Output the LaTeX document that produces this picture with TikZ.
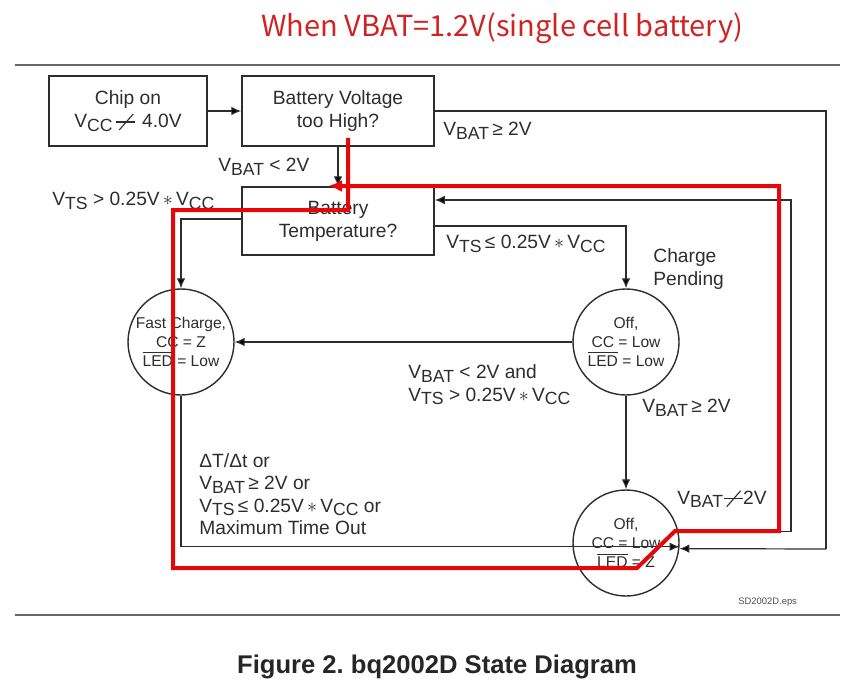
\documentclass[tikz,border=0pt]{standalone}
\usepackage{fontspec}
\setmainfont{Liberation Sans}
\newfontfamily\titlefont{Noto Sans CJK JP}
\usetikzlibrary{arrows.meta,calc}
\frenchspacing
\newcommand\sbs[1]{\raisebox{-0.35ex}{\fontsize{8.8}{9}\selectfont #1}}
\newcommand\slashsym{\tikz[baseline=0pt,x=1pt,y=1pt,line width=0.55pt]{\draw (0,2.8)--(9.5,2.8); \draw (1.5,-1.2)--(8.5,6.8);}}
\newcommand\mul{\,$\ast$\,}
\definecolor{ink}{RGB}{45,45,45}
\definecolor{hl}{RGB}{228,8,10}
\definecolor{ttl}{RGB}{210,35,35}
\tikzset{
  box/.style={draw=ink, line width=0.75pt, minimum width=79pt, minimum height=35pt, align=center, inner sep=1pt, font=\fontsize{9.6}{11.5}\selectfont, text=ink},
  state/.style={draw=ink, line width=0.7pt, circle, minimum size=53pt, inner sep=0pt, align=center, font=\fontsize{7.8}{9.4}\selectfont, text=ink},
  conn/.style={draw=ink, line width=0.6pt},
  arr/.style={conn, -{Latex[length=5pt,width=4.3pt]}},
  lbl/.style={anchor=west, inner sep=0pt, align=left, font=\fontsize{9.6}{11.25}\selectfont, text=ink},
  rule/.style={draw=black!60, line width=1pt},
  redpath/.style={draw=hl, line width=2pt, -{Latex[length=7pt,width=6pt]}}
}
\begin{document}
\begin{tikzpicture}[x=0.5pt,y=-0.5pt]
\useasboundingbox (0,0) rectangle (854,695);
% title
\node[text=ttl, font=\titlefont\fontsize{14.5}{16}\selectfont, inner sep=0pt] (title) at (502,28) {When VBAT=1.2V(single cell battery)};
% rules
\coordinate (r1a) at (15,65); \coordinate (r1b) at (840,65);
\coordinate (r2a) at (15,615); \coordinate (r2b) at (840,615);
\draw[rule] (r1a) -- (r1b);
\draw[rule] (r2a) -- (r2b);
% boxes
\node[box] (chip) at (128,111) {Chip on\\V\sbs{CC}\,\slashsym\,\,4.0V};
\node[box, minimum width=96pt] (bv) at (338,111) {Battery Voltage\\too High?};
\node[box, minimum width=96pt, minimum height=34pt] (bt) at (338,221) {Battery\\Temperature?};
% states
\node[state] (fast) at (181,342) {Fast Charge,\\CC = Z\\$\overline{\mbox{LED}}$ = Low};
\node[state] (off1) at (626,342) {Off,\\CC = Low\\$\overline{\mbox{LED}}$ = Low};
\node[state] (off2) at (626,543) {Off,\\CC = Low\\$\overline{\mbox{LED}}$ = Z};
% corner coordinates
\coordinate (c1) at (826,549);
\coordinate (c2) at (791,200);
% connectors
\draw[arr] (chip.east) -- (bv.west);
\draw[arr] (bv.south) -- (bt.north);
\draw[conn] (bv.east) -| (c1);
\draw[arr] (c1) -- (off2.-6);
\draw[arr] ([yshift=1pt]bt.west) -| (fast.north);
\draw[arr] ([yshift=-2.5pt]bt.east) -| (off1.north);
\draw[arr] (off2.12) -| (c2) -- ([yshift=10.5pt]bt.east);
\draw[arr] (off1.west) -- (fast.east);
\draw[arr] (off1.south) -- (off2.north);
\draw[arr] (fast.south) |- (off2.-4);
% labels
\node[lbl] (l1) at (218,167) {V\sbs{BAT} < 2V};
\node[lbl] (l2) at (52,201) {V\sbs{TS} > 0.25V\mul V\sbs{CC}};
\node[lbl] (l3) at (443,131) {V\sbs{BAT}\,≥ 2V};
\node[lbl] (l4) at (446,244) {V\sbs{TS}\,≤ 0.25V\mul V\sbs{CC}};
\node[lbl] (l5) at (653,269) {Charge\\Pending};
\node[lbl] (l6) at (408,385) {V\sbs{BAT} < 2V and\\V\sbs{TS} > 0.25V\mul V\sbs{CC}};
\node[lbl] (l7) at (642,408) {V\sbs{BAT}\,≥ 2V};
\node[lbl] (l8) at (199,494) {ΔT/Δt or\\V\sbs{BAT}\,≥ 2V or\\V\sbs{TS}\,≤ 0.25V\mul V\sbs{CC} or\\Maximum Time Out};
\node[lbl] (l9) at (677,499) {V\sbs{BAT}\slashsym 2V};
\node[anchor=west, inner sep=0pt, font=\fontsize{4.7}{5}\selectfont, text=black!70] (l10) at (738,602) {SD2002D.eps};
% caption
\node[inner sep=0pt, font=\bfseries\fontsize{12.8}{14}\selectfont, text=black!85] (cap) at (437,667) {Figure 2. bq2002D State Diagram};
% red highlight path
\coordinate (p0) at (348,138);
\coordinate (p1) at (348,210);
\coordinate (p2) at (173,210);
\coordinate (p3) at (173,568);
\coordinate (p4) at (637,568);
\coordinate (p5) at (675,531);
\coordinate (p6) at (779,531);
\coordinate (p7) at (779,186);
\coordinate (p8) at (328,186);
\draw[redpath] (p0) -- (p1) -- (p2) -- (p3) -- (p4) -- (p5) -- (p6) -- (p7) -- (p8);
\end{tikzpicture}
\end{document}
